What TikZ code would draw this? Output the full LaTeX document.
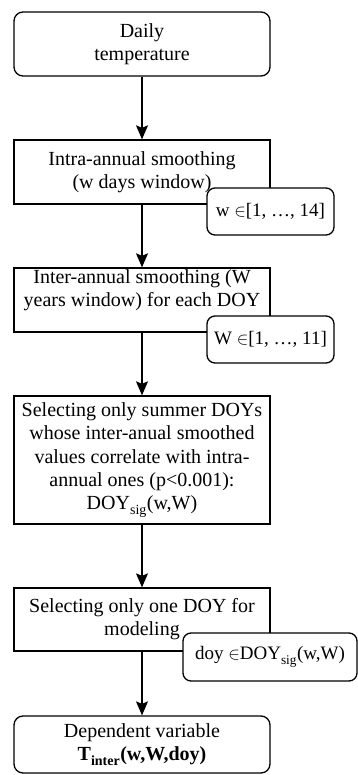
\documentclass[tikz,border=0pt]{standalone}
\usepackage{fontspec}
\setmainfont{Liberation Serif}
\usetikzlibrary{arrows.meta}
\newcommand\subtx[1]{\raisebox{-1.5pt}{\textsubscript{#1}}}
\begin{document}
\begin{tikzpicture}[x=1pt,y=-1pt,
  every node/.style={font=\fontsize{20}{23.2}\selectfont, align=center, inner sep=0pt, line width=1.3pt},
  mainbox/.style={draw, fill=white, minimum width=256pt},
  roundbox/.style={mainbox, rounded corners=9pt},
  sidebox/.style={draw, fill=white, rounded corners=8pt, minimum height=47pt, font=\fontsize{19}{23}\selectfont},
  flow/.style={line width=1.3pt, -{Stealth[length=14pt,width=12pt,inset=2.5pt]}}]
\useasboundingbox (0,0) rectangle (358,775);
\node[roundbox, minimum height=64pt] (n1) at (142,44) {Daily\\temperature};
\node[mainbox, minimum height=64pt] (n2) at (142,172) {Intra-annual smoothing\\(w days window)};
\node[sidebox, minimum width=127pt] (s1) at (270.5,211.5) {w $\in$[1, …, 14]};
\node[mainbox, minimum height=64pt] (n3) at (142,300) {Inter-annual smoothing (W\\years window) for each DOY\\\mbox{}};
\node[sidebox, minimum width=127pt] (s2) at (270.5,339.5) {W $\in$[1, …, 11]};
\node[mainbox, minimum height=128pt] (n4) at (142,460) {Selecting only summer DOYs\\whose inter-anual smoothed\\values correlate with intra-\\annual ones (p<0.001):\\DOY\subtx{sig}(w,W)};
\node[mainbox, minimum height=63pt] (n5) at (142,619.5) {Selecting only one DOY for\\modeling};
\node[sidebox, minimum width=174pt, minimum height=48pt] (s3) at (270,657) {doy $\in$DOY\subtx{sig}(w,W)};
\node[roundbox, minimum height=57pt] (n6) at (142,744.5) {Dependent variable\\\textbf{T\subtx{inter}(w,W,doy)}};
\draw[flow] (n1) -- (n2);
\draw[flow] (n2.south) -- (n3.north);
\draw[flow] (n3.south) -- (n4.north);
\draw[flow] (n4) -- (n5);
\draw[flow] (n5.south) -- (n6.north);
\end{tikzpicture}
\end{document}
